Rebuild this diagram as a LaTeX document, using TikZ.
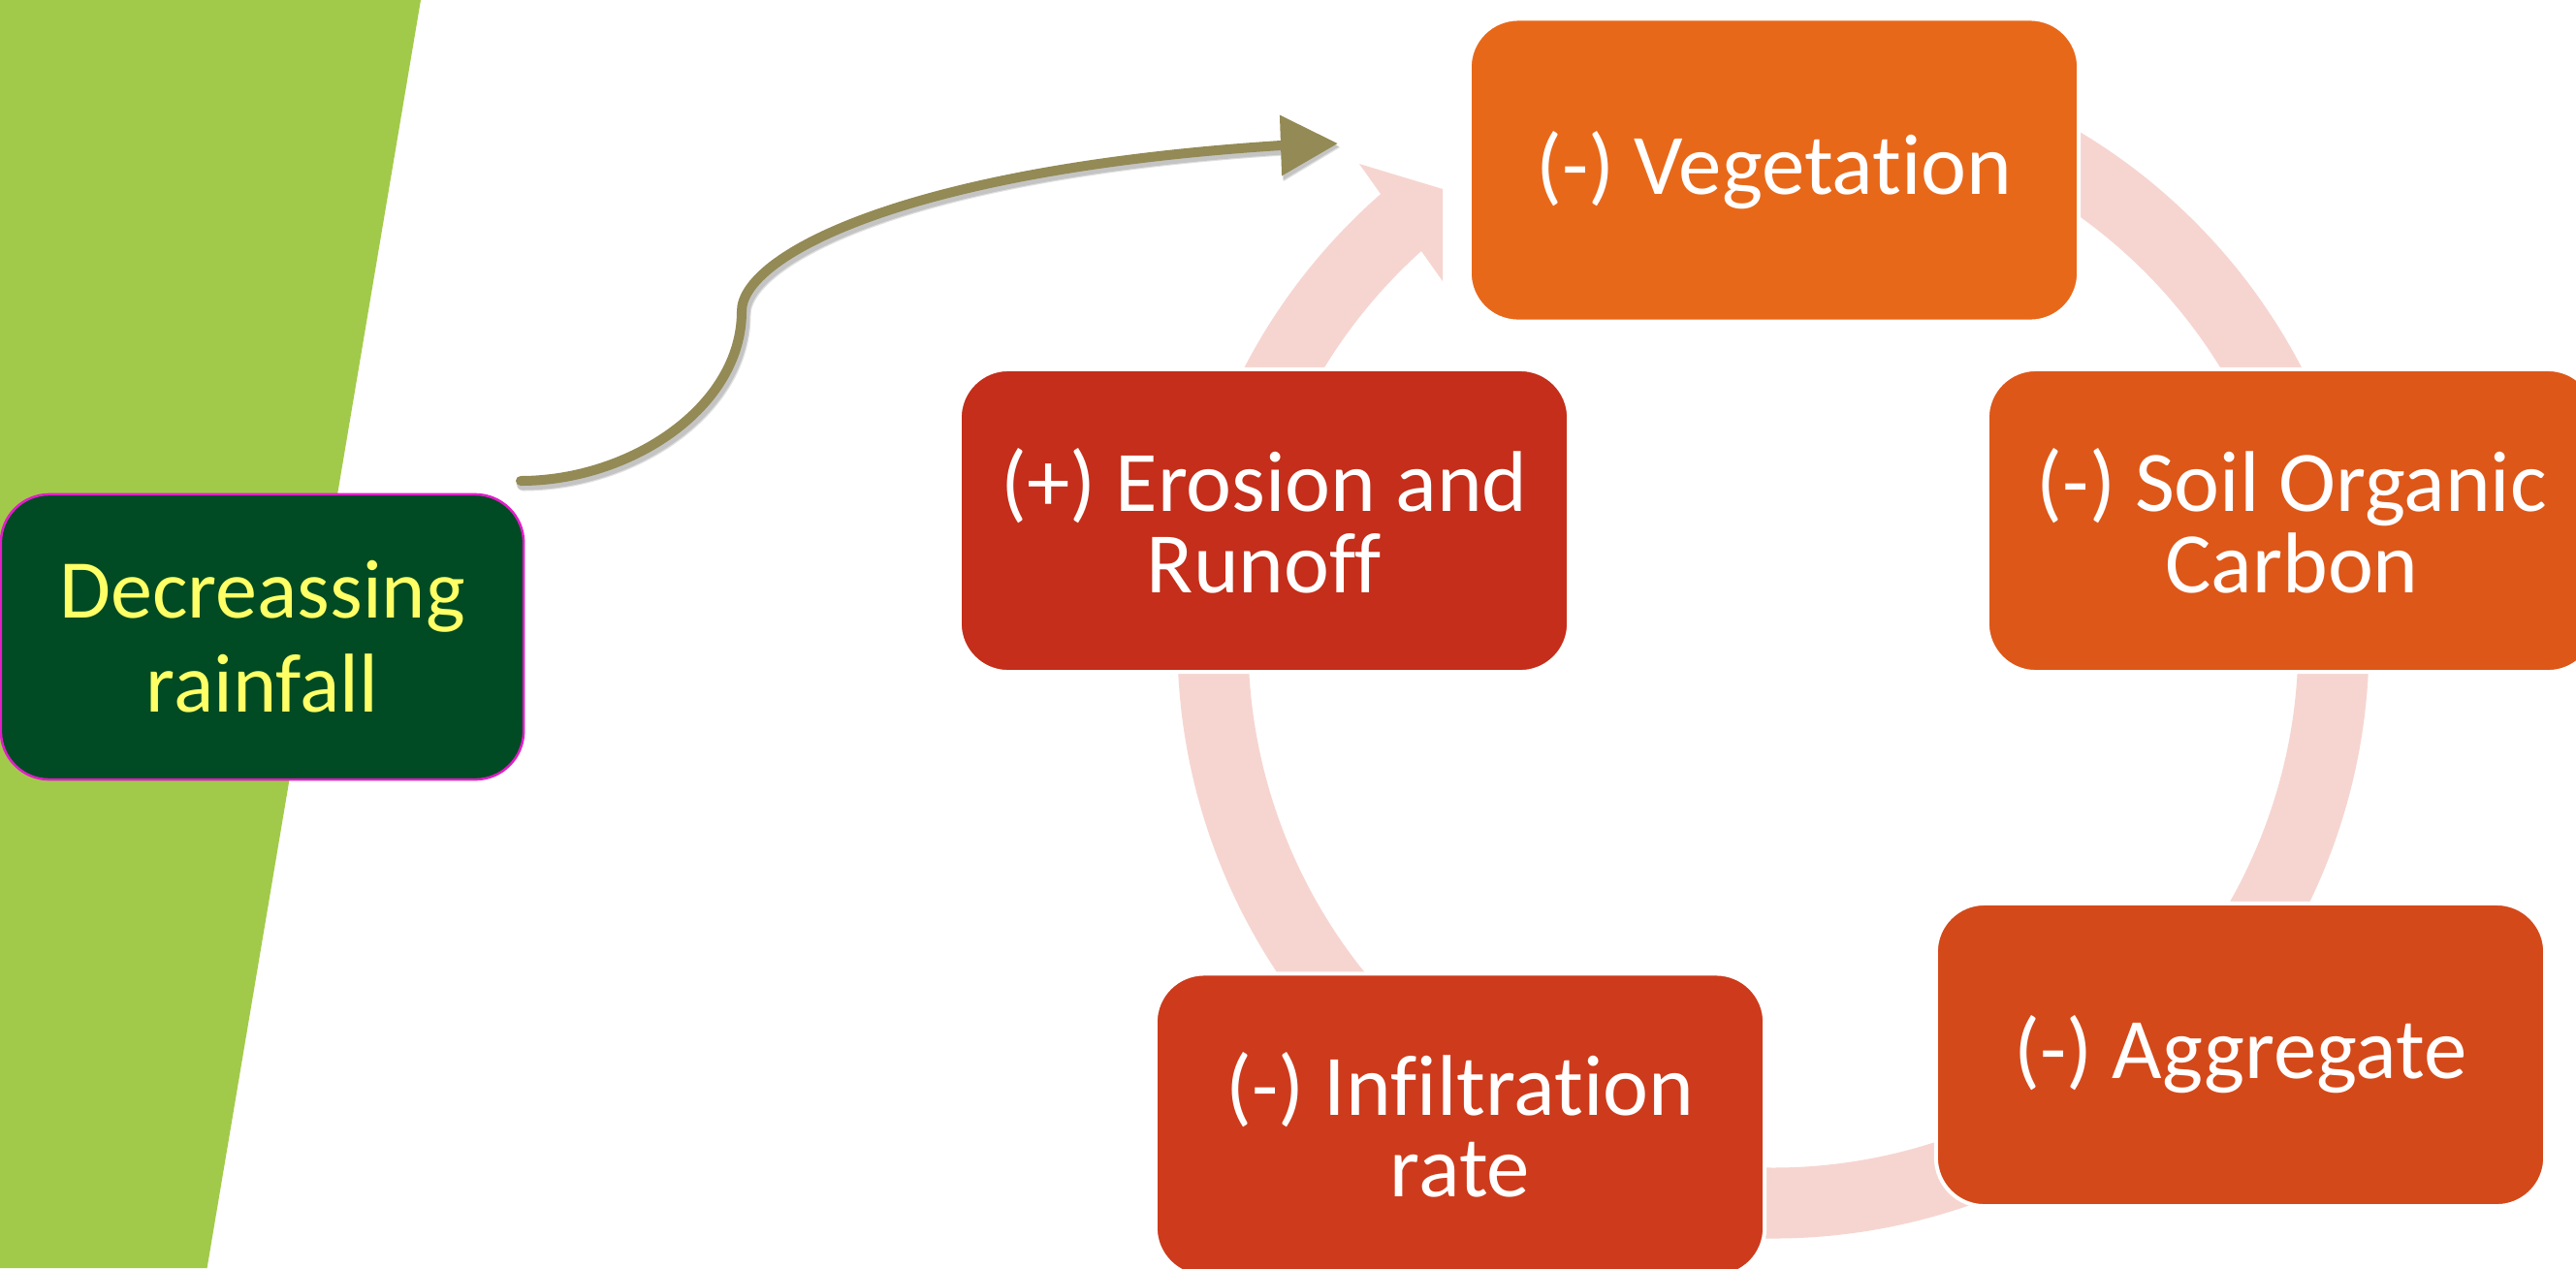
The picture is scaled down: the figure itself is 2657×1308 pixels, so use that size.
\documentclass[tikz,border=0pt]{standalone}
\usepackage{fontspec}
\setmainfont{Carlito}[Ligatures={NoCommon}]
\usetikzlibrary{arrows.meta}
\definecolor{limec}{HTML}{A2CA4A}
\definecolor{rainfill}{HTML}{004B23}
\definecolor{rainedge}{HTML}{E01EC8}
\definecolor{raintext}{HTML}{FFFF66}
\definecolor{vegc}{HTML}{E8681A}
\definecolor{soilc}{HTML}{DD5719}
\definecolor{aggc}{HTML}{D4491A}
\definecolor{infc}{HTML}{CD3B1C}
\definecolor{eroc}{HTML}{C42E1A}
\definecolor{ringc}{HTML}{F6D5D0}
\definecolor{olivec}{HTML}{938A55}
\begin{document}
\begin{tikzpicture}[x=0.01cm,y=-0.01cm,
  cyclebox/.style={rectangle, rounded corners=0.5cm, draw=white, line width=0.04cm,
    minimum width=6.28cm, minimum height=3.12cm, text=white, align=center,
    inner sep=0pt, font=\fontsize{25.3}{23.8}\selectfont},
  rainbox/.style={rectangle, rounded corners=0.5cm, draw=rainedge, line width=0.025cm,
    fill=rainfill, minimum width=5.39cm, minimum height=2.94cm, text=raintext,
    align=center, inner sep=0pt, font=\fontsize{24.5}{27.5}\selectfont},
  ringarc/.style={draw=ringc, line width=0.73cm},
  rainline/.style={draw=olivec, line width=0.1cm, line cap=round,
    -{Triangle[length=0.59cm,width=0.6cm]}},
  rainshadow/.style={draw=black, opacity=0.12, line width=0.13cm, line cap=round,
    -{Triangle[length=0.6cm,width=0.62cm]}}]
\useasboundingbox (0,0) rectangle (2657,1308);
\clip (0,0) rectangle (2657,1308);
\fill[white] (0,0) rectangle (2657,1308);
% green strip
\fill[limec] (0,0) -- (434,0) -- (213.6,1308) -- (0,1308) -- cycle;
% cycle ring
\begin{scope}[shift={(1829,663)}]
  \draw[ringarc] (-65:578) arc[start angle=-65, end angle=-20, radius=578];
  \draw[ringarc] (0:578) arc[start angle=0, end angle=35, radius=578];
  \draw[ringarc] (50:578) arc[start angle=50, end angle=100, radius=578];
  \draw[ringarc] (120:578) arc[start angle=120, end angle=190, radius=578];
  \fill[ringc] (190:615) arc[start angle=190, end angle=228.82, radius=615]
     -- (-427,-494) -- (-341,-468) -- (-341,-373) -- (-363,-404)
     arc[start angle=228.06, end angle=190, radius=542] -- cycle;
\end{scope}
% cycle boxes
\node[cyclebox, fill=vegc] (veg) at (1830,175.5) {(-) Vegetation};
\node[cyclebox, fill=soilc] (soil) at (2364,537) {(-) Soil Organic\\Carbon};
\node[cyclebox, fill=aggc] (agg) at (2311,1088) {(-) Aggregate};
\node[cyclebox, fill=infc] (inf) at (1506,1160.5) {(-) Infiltration\\rate};
\node[cyclebox, fill=eroc] (ero) at (1304,537) {(+) Erosion and\\Runoff};
% rainfall box
\node[rainbox] (rain) at (270.5,657) {Decreassing\\rainfall};
% curved arrow
\coordinate (cstart) at (537,496);
\coordinate (ctip) at (1380,148);
\begin{scope}[transform canvas={shift={(3,4)}}]
  \draw[rainshadow] (cstart) .. controls (650,496) and (765,420) .. (765,321)
     .. controls (765,265) and (930,175) .. (1321,150) -- (ctip);
\end{scope}
\begin{scope}[transform canvas={shift={(2,3)}}]
  \draw[rainshadow] (cstart) .. controls (650,496) and (765,420) .. (765,321)
     .. controls (765,265) and (930,175) .. (1321,150) -- (ctip);
\end{scope}
\draw[rainline] (cstart) .. controls (650,496) and (765,420) .. (765,321)
   .. controls (765,265) and (930,175) .. (1321,150) -- (ctip);
\end{tikzpicture}
\end{document}
